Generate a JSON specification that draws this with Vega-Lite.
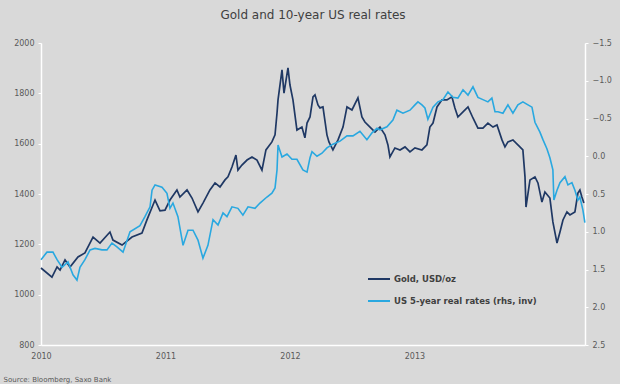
{
  "$schema": "https://vega.github.io/schema/vega-lite/v6.json",
  "width": 544,
  "height": 302,
  "autosize": {"type": "none"},
  "padding": {"left": 41, "top": 43, "right": 35, "bottom": 39},
  "background": "#d9d9d9",
  "title": {"text": "Gold and 10-year US real rates", "anchor": "middle", "offset": 17, "fontSize": 12, "fontWeight": "normal", "font": "DejaVu Sans", "color": "#404040"},
  "config": {
    "view": {"stroke": null},
    "font": "DejaVu Sans",
    "axis": {"grid": false, "domainColor": "#ffffff", "domainWidth": 1.5, "tickColor": "#ffffff", "tickSize": 3, "labelColor": "#595959", "labelFontSize": 8, "labelFont": "DejaVu Sans"}
  },
  "datasets": {
    "gold": [
      {"year": 2010.000, "value": 1106}, {"year": 2010.088, "value": 1070}, {"year": 2010.129, "value": 1110}, {"year": 2010.153, "value": 1098},
      {"year": 2010.193, "value": 1138}, {"year": 2010.233, "value": 1110}, {"year": 2010.297, "value": 1150}, {"year": 2010.353, "value": 1166},
      {"year": 2010.418, "value": 1229}, {"year": 2010.474, "value": 1205}, {"year": 2010.554, "value": 1249}, {"year": 2010.578, "value": 1217},
      {"year": 2010.651, "value": 1197}, {"year": 2010.731, "value": 1229}, {"year": 2010.811, "value": 1245}, {"year": 2010.851, "value": 1297},
      {"year": 2010.916, "value": 1376}, {"year": 2010.956, "value": 1333}, {"year": 2010.996, "value": 1336}, {"year": 2011.036, "value": 1376},
      {"year": 2011.092, "value": 1416}, {"year": 2011.116, "value": 1388}, {"year": 2011.173, "value": 1416}, {"year": 2011.213, "value": 1384},
      {"year": 2011.261, "value": 1329}, {"year": 2011.301, "value": 1364}, {"year": 2011.357, "value": 1416}, {"year": 2011.398, "value": 1444},
      {"year": 2011.438, "value": 1428}, {"year": 2011.478, "value": 1456}, {"year": 2011.502, "value": 1468}, {"year": 2011.534, "value": 1507},
      {"year": 2011.566, "value": 1555}, {"year": 2011.582, "value": 1495}, {"year": 2011.614, "value": 1515}, {"year": 2011.655, "value": 1535},
      {"year": 2011.695, "value": 1547}, {"year": 2011.735, "value": 1535}, {"year": 2011.775, "value": 1495}, {"year": 2011.807, "value": 1575},
      {"year": 2011.855, "value": 1607}, {"year": 2011.880, "value": 1635}, {"year": 2011.896, "value": 1722}, {"year": 2011.904, "value": 1774},
      {"year": 2011.936, "value": 1893}, {"year": 2011.952, "value": 1801}, {"year": 2011.984, "value": 1901}, {"year": 2012.000, "value": 1833},
      {"year": 2012.024, "value": 1774}, {"year": 2012.056, "value": 1654}, {"year": 2012.096, "value": 1666}, {"year": 2012.120, "value": 1623},
      {"year": 2012.137, "value": 1682}, {"year": 2012.161, "value": 1706}, {"year": 2012.185, "value": 1786}, {"year": 2012.201, "value": 1794},
      {"year": 2012.225, "value": 1754}, {"year": 2012.241, "value": 1742}, {"year": 2012.265, "value": 1746}, {"year": 2012.297, "value": 1635},
      {"year": 2012.313, "value": 1607}, {"year": 2012.345, "value": 1575}, {"year": 2012.386, "value": 1615}, {"year": 2012.426, "value": 1666},
      {"year": 2012.458, "value": 1746}, {"year": 2012.498, "value": 1734}, {"year": 2012.546, "value": 1782}, {"year": 2012.578, "value": 1706},
      {"year": 2012.602, "value": 1686}, {"year": 2012.643, "value": 1666}, {"year": 2012.683, "value": 1646}, {"year": 2012.723, "value": 1666},
      {"year": 2012.763, "value": 1635}, {"year": 2012.787, "value": 1595}, {"year": 2012.803, "value": 1547}, {"year": 2012.843, "value": 1583},
      {"year": 2012.884, "value": 1575}, {"year": 2012.924, "value": 1587}, {"year": 2012.964, "value": 1567}, {"year": 2013.004, "value": 1583},
      {"year": 2013.060, "value": 1575}, {"year": 2013.100, "value": 1595}, {"year": 2013.124, "value": 1666}, {"year": 2013.149, "value": 1682},
      {"year": 2013.181, "value": 1746}, {"year": 2013.221, "value": 1774}, {"year": 2013.261, "value": 1774}, {"year": 2013.301, "value": 1786},
      {"year": 2013.325, "value": 1742}, {"year": 2013.349, "value": 1706}, {"year": 2013.390, "value": 1726}, {"year": 2013.430, "value": 1746},
      {"year": 2013.470, "value": 1702}, {"year": 2013.510, "value": 1662}, {"year": 2013.550, "value": 1662}, {"year": 2013.590, "value": 1682},
      {"year": 2013.631, "value": 1666}, {"year": 2013.663, "value": 1674}, {"year": 2013.703, "value": 1615}, {"year": 2013.727, "value": 1587},
      {"year": 2013.751, "value": 1607}, {"year": 2013.791, "value": 1615}, {"year": 2013.847, "value": 1587}, {"year": 2013.871, "value": 1575},
      {"year": 2013.888, "value": 1468}, {"year": 2013.896, "value": 1348}, {"year": 2013.928, "value": 1456}, {"year": 2013.968, "value": 1468},
      {"year": 2013.992, "value": 1444}, {"year": 2014.024, "value": 1368}, {"year": 2014.048, "value": 1408}, {"year": 2014.088, "value": 1384},
      {"year": 2014.112, "value": 1289}, {"year": 2014.145, "value": 1205}, {"year": 2014.169, "value": 1249}, {"year": 2014.193, "value": 1297},
      {"year": 2014.225, "value": 1329}, {"year": 2014.249, "value": 1317}, {"year": 2014.289, "value": 1329}, {"year": 2014.313, "value": 1404},
      {"year": 2014.329, "value": 1416}, {"year": 2014.345, "value": 1388}, {"year": 2014.361, "value": 1364}
    ],
    "rates": [
      {"year": 2010.000, "value": 1.37}, {"year": 2010.048, "value": 1.27}, {"year": 2010.096, "value": 1.27}, {"year": 2010.129, "value": 1.37},
      {"year": 2010.169, "value": 1.47}, {"year": 2010.217, "value": 1.40}, {"year": 2010.257, "value": 1.57}, {"year": 2010.289, "value": 1.64},
      {"year": 2010.313, "value": 1.47}, {"year": 2010.353, "value": 1.37}, {"year": 2010.394, "value": 1.24}, {"year": 2010.434, "value": 1.22},
      {"year": 2010.490, "value": 1.24}, {"year": 2010.530, "value": 1.24}, {"year": 2010.570, "value": 1.15}, {"year": 2010.610, "value": 1.20},
      {"year": 2010.659, "value": 1.27}, {"year": 2010.715, "value": 1.00}, {"year": 2010.795, "value": 0.92}, {"year": 2010.835, "value": 0.80},
      {"year": 2010.876, "value": 0.67}, {"year": 2010.892, "value": 0.45}, {"year": 2010.916, "value": 0.38}, {"year": 2010.972, "value": 0.41},
      {"year": 2011.012, "value": 0.49}, {"year": 2011.036, "value": 0.69}, {"year": 2011.060, "value": 0.62}, {"year": 2011.100, "value": 0.80},
      {"year": 2011.141, "value": 1.18}, {"year": 2011.181, "value": 0.98}, {"year": 2011.221, "value": 0.98}, {"year": 2011.261, "value": 1.11},
      {"year": 2011.301, "value": 1.35}, {"year": 2011.341, "value": 1.18}, {"year": 2011.382, "value": 0.84}, {"year": 2011.422, "value": 0.91},
      {"year": 2011.462, "value": 0.75}, {"year": 2011.494, "value": 0.80}, {"year": 2011.534, "value": 0.67}, {"year": 2011.582, "value": 0.69},
      {"year": 2011.622, "value": 0.78}, {"year": 2011.663, "value": 0.67}, {"year": 2011.719, "value": 0.69}, {"year": 2011.759, "value": 0.62},
      {"year": 2011.815, "value": 0.54}, {"year": 2011.855, "value": 0.49}, {"year": 2011.880, "value": 0.42}, {"year": 2011.896, "value": 0.18},
      {"year": 2011.904, "value": -0.15}, {"year": 2011.936, "value": 0.01}, {"year": 2011.976, "value": -0.03}, {"year": 2012.016, "value": 0.04},
      {"year": 2012.056, "value": 0.04}, {"year": 2012.104, "value": 0.18}, {"year": 2012.137, "value": 0.21}, {"year": 2012.161, "value": 0.02},
      {"year": 2012.177, "value": -0.06}, {"year": 2012.217, "value": 0.00}, {"year": 2012.257, "value": -0.04}, {"year": 2012.297, "value": -0.11},
      {"year": 2012.345, "value": -0.16}, {"year": 2012.402, "value": -0.20}, {"year": 2012.458, "value": -0.27}, {"year": 2012.506, "value": -0.27},
      {"year": 2012.562, "value": -0.33}, {"year": 2012.618, "value": -0.22}, {"year": 2012.659, "value": -0.31}, {"year": 2012.699, "value": -0.37},
      {"year": 2012.723, "value": -0.35}, {"year": 2012.779, "value": -0.39}, {"year": 2012.827, "value": -0.48}, {"year": 2012.859, "value": -0.61},
      {"year": 2012.908, "value": -0.57}, {"year": 2012.964, "value": -0.61}, {"year": 2013.004, "value": -0.68}, {"year": 2013.028, "value": -0.72},
      {"year": 2013.060, "value": -0.68}, {"year": 2013.084, "value": -0.64}, {"year": 2013.108, "value": -0.49}, {"year": 2013.149, "value": -0.65},
      {"year": 2013.189, "value": -0.72}, {"year": 2013.229, "value": -0.75}, {"year": 2013.269, "value": -0.85}, {"year": 2013.309, "value": -0.78},
      {"year": 2013.349, "value": -0.77}, {"year": 2013.390, "value": -0.88}, {"year": 2013.430, "value": -0.81}, {"year": 2013.470, "value": -0.92},
      {"year": 2013.510, "value": -0.78}, {"year": 2013.550, "value": -0.75}, {"year": 2013.590, "value": -0.72}, {"year": 2013.622, "value": -0.77},
      {"year": 2013.647, "value": -0.59}, {"year": 2013.671, "value": -0.59}, {"year": 2013.711, "value": -0.57}, {"year": 2013.751, "value": -0.68},
      {"year": 2013.791, "value": -0.57}, {"year": 2013.831, "value": -0.68}, {"year": 2013.871, "value": -0.72}, {"year": 2013.912, "value": -0.68},
      {"year": 2013.944, "value": -0.65}, {"year": 2013.968, "value": -0.45}, {"year": 2014.008, "value": -0.32}, {"year": 2014.032, "value": -0.22},
      {"year": 2014.064, "value": -0.10}, {"year": 2014.088, "value": 0.02}, {"year": 2014.112, "value": 0.18}, {"year": 2014.120, "value": 0.58},
      {"year": 2014.145, "value": 0.45}, {"year": 2014.169, "value": 0.35}, {"year": 2014.209, "value": 0.27}, {"year": 2014.233, "value": 0.38},
      {"year": 2014.265, "value": 0.35}, {"year": 2014.289, "value": 0.45}, {"year": 2014.313, "value": 0.58}, {"year": 2014.329, "value": 0.54},
      {"year": 2014.353, "value": 0.71}, {"year": 2014.369, "value": 0.88}
    ]
  },
  "encoding": {
    "x": {
      "field": "year", "type": "quantitative",
      "scale": {"domain": [2010, 2014.37], "nice": false, "zero": false},
      "axis": {"values": [2010, 2011, 2012, 2013], "format": "d", "tickSize": 0, "labelPadding": 7, "labelFlush": false,
        "title": "Source: Bloomberg, Saxo Bank", "titleFontSize": 7, "titleFontWeight": "normal", "titleColor": "#595959",
        "titleAnchor": "start", "titleAlign": "left", "titleBaseline": "alphabetic", "titleX": -38, "titleY": 36}
    },
    "color": {
      "scale": {"domain": ["Gold, USD/oz", "US 5-year real rates (rhs, inv)"], "range": ["#1f3864", "#29a8e0"]},
      "legend": {"orient": "none", "legendX": 326, "legendY": 224, "title": null, "symbolType": "stroke", "symbolSize": 484,
        "symbolStrokeWidth": 2, "labelFontSize": 8.5, "labelFontWeight": "bold", "labelColor": "#404040", "labelFont": "DejaVu Sans",
        "rowPadding": 5, "labelOffset": 3}
    }
  },
  "layer": [
    {
      "data": {"name": "gold"},
      "mark": {"type": "line", "strokeWidth": 1.7},
      "encoding": {
        "y": {"field": "value", "type": "quantitative",
          "scale": {"domain": [800, 2000], "nice": false, "zero": false},
          "axis": {"orient": "left", "values": [800, 1000, 1200, 1400, 1600, 1800, 2000], "format": "d", "title": null, "labelPadding": 4}},
        "color": {"datum": "Gold, USD/oz"}
      }
    },
    {
      "data": {"name": "rates"},
      "mark": {"type": "line", "strokeWidth": 1.6},
      "encoding": {
        "y": {"field": "value", "type": "quantitative",
          "scale": {"domain": [-1.5, 2.5], "reverse": true, "nice": false, "zero": false},
          "axis": {"orient": "right", "values": [-1.5, -1, -0.5, 0, 0.5, 1, 1.5, 2, 2.5], "format": ".1f", "title": null, "labelPadding": 4}},
        "color": {"datum": "US 5-year real rates (rhs, inv)"}
      }
    }
  ],
  "resolve": {"scale": {"y": "independent"}}
}
